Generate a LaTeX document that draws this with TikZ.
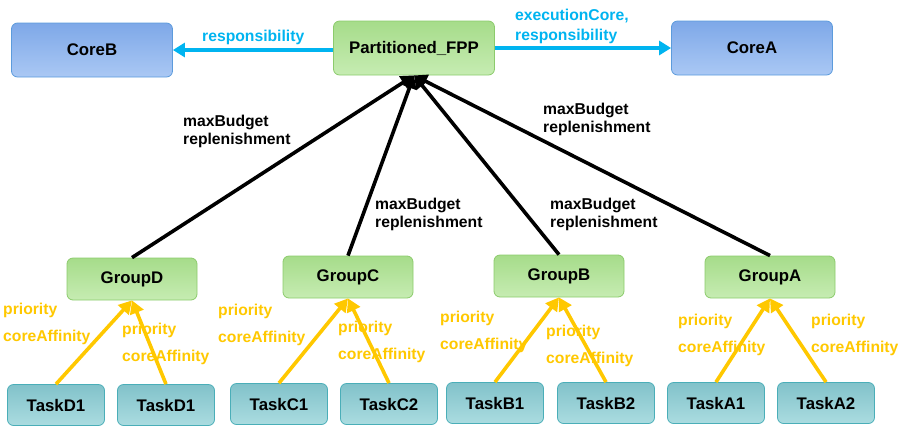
\documentclass[tikz,border=0pt]{standalone}
\usepackage{fontspec}
\setmainfont{Liberation Sans}
\usetikzlibrary{arrows.meta}
\definecolor{arrblue}{HTML}{00B4F0}
\definecolor{arryel}{HTML}{FFC800}
\tikzset{
  box/.style={rounded corners=6pt, minimum height=#1, inner sep=0pt, font=\fontsize{16.8}{19}\selectfont\bfseries, line width=0.8pt},
  corebox/.style={box=54pt, minimum width=161pt, top color=blue!0!cbtop, bottom color=cbbot, draw=cbdraw},
  grpbox/.style={box=42pt, minimum width=130pt, top color=cgtop, bottom color=cgbot, draw=cgdraw},
  topbox/.style={box=54pt, minimum width=161pt, top color=cgtop, bottom color=cgbot, draw=cgdraw},
  taskbox/.style={box=41pt, minimum width=97pt, top color=cttop, bottom color=ctbot, draw=ctdraw},
  blk/.style={line width=3.6pt, black, -{Triangle[length=13pt,width=14pt]}},
  blu/.style={line width=3.6pt, arrblue, -{Triangle[length=12pt,width=14pt]}},
  yel/.style={line width=3.6pt, arryel, -{Triangle[length=13pt,width=14pt]}},
  blab/.style={anchor=west, align=left, inner sep=0pt, font=\fontsize{15.7}{18}\selectfont\bfseries},
  ylab/.style={anchor=west, align=left, inner sep=0pt, text=arryel, font=\fontsize{15.7}{18}\selectfont\bfseries},
}
\definecolor{cbtop}{HTML}{7EA8E8}
\definecolor{cbbot}{HTML}{AAC8F4}
\definecolor{cbdraw}{HTML}{5C9BDC}
\definecolor{cgtop}{HTML}{A6DC8A}
\definecolor{cgbot}{HTML}{C6ECB2}
\definecolor{cgdraw}{HTML}{8CCB6C}
\definecolor{cttop}{HTML}{82C2CA}
\definecolor{ctbot}{HTML}{AADCE0}
\definecolor{ctdraw}{HTML}{4AAEB8}
\begin{document}
\begin{tikzpicture}[x=1pt,y=-1pt]
\useasboundingbox (0,0) rectangle (900,440);
% top row
\node[corebox] (coreB) at (92,50) {CoreB};
\node[topbox] (fpp) at (414,48) {Partitioned\_FPP};
\node[corebox] (coreA) at (752,48) {CoreA};
% groups
\node[grpbox] (gD) at (132,279) {GroupD};
\node[grpbox] (gC) at (348,277) {GroupC};
\node[grpbox] (gB) at (559,276) {GroupB};
\node[grpbox] (gA) at (770,277) {GroupA};
% tasks
\node[taskbox] (tD1) at (56,405) {TaskD1};
\node[taskbox] (tD2) at (166,405) {TaskD1};
\node[taskbox] (tC1) at (279,404) {TaskC1};
\node[taskbox] (tC2) at (389,404) {TaskC2};
\node[taskbox] (tB1) at (495,403) {TaskB1};
\node[taskbox] (tB2) at (606,403) {TaskB2};
\node[taskbox] (tA1) at (716,403) {TaskA1};
\node[taskbox] (tA2) at (826,403) {TaskA2};
% blue arrows
\draw[blu] (fpp.west |- 0,50) coordinate (fw) -- (coreB.east |- fw);
\draw[blu] (fpp.east) -- (coreA.west);
\node[blab, text=arrblue] (lresp) at (202,37) {responsibility};
\node[blab, text=arrblue] (lexec) at (515,26) {executionCore,\\[2pt]responsibility};
% black arrows
\draw[blk] (gD.north) -- (fpp.south);
\draw[blk] (gC.north) -- (fpp.south);
\draw[blk] (gB.north) -- (fpp.south);
\draw[blk] (gA.north) -- (fpp.south);
\node[blab] (lmD) at (183,131) {maxBudget\\replenishment};
\node[blab] (lmC) at (375,214) {maxBudget\\replenishment};
\node[blab] (lmB) at (550,214) {maxBudget\\replenishment};
\node[blab] (lmA) at (543,119) {maxBudget\\replenishment};
% yellow arrows
\draw[yel] (tD1.north) -- (gD.south);
\draw[yel] (tD2.north) -- (gD.south);
\draw[yel] (tC1.north) -- (gC.south);
\draw[yel] (tC2.north) -- (gC.south);
\draw[yel] (tB1.north) -- (gB.south);
\draw[yel] (tB2.north) -- (gB.south);
\draw[yel] (tA1.north) -- (gA.south);
\draw[yel] (tA2.north) -- (gA.south);
\node[ylab] (yD1) at (3,323.5) {priority\\[9pt]coreAffinity};
\node[ylab] (yD2) at (122,344) {priority\\[9pt]coreAffinity};
\node[ylab] (yC1) at (218,324.5) {priority\\[9pt]coreAffinity};
\node[ylab] (yC2) at (338,341.5) {priority\\[9pt]coreAffinity};
\node[ylab] (yB1) at (440,331.5) {priority\\[9pt]coreAffinity};
\node[ylab] (yB2) at (546,346) {priority\\[9pt]coreAffinity};
\node[ylab] (yA1) at (678,334.5) {priority\\[9pt]coreAffinity};
\node[ylab] (yA2) at (811,334.5) {priority\\[9pt]coreAffinity};
\end{tikzpicture}
\end{document}
